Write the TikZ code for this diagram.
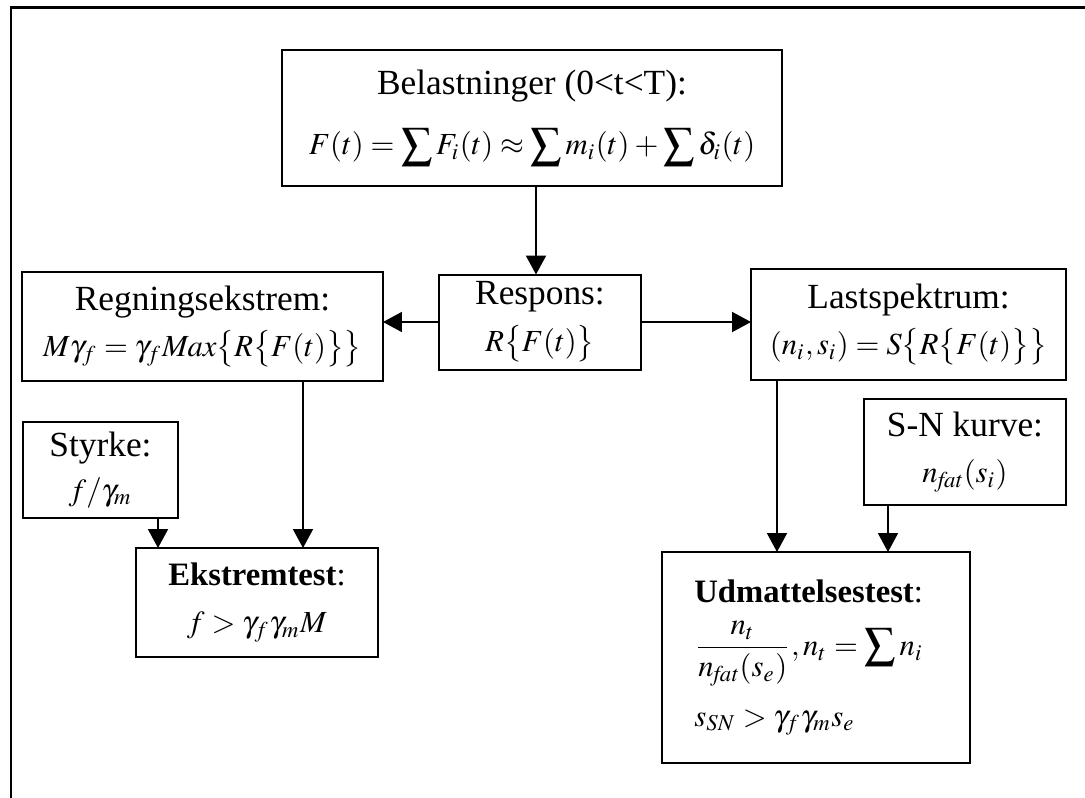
\documentclass[tikz,border=0pt]{standalone}
\usepackage{amsmath}
\usepackage{mathptmx}
\usepackage[no-math]{fontspec}
\setmainfont{Liberation Serif}
\usetikzlibrary{arrows.meta}
\newcommand{\mline}[1]{\mbox{\fontsize{9.2}{11}\selectfont\thickmuskip=4mu\medmuskip=3mu$#1$}}
\newcommand{\btitle}[1]{{\fontsize{9.8}{12}\selectfont\textbf{#1}:}}
\begin{document}
\begin{tikzpicture}[x=0.3pt,y=-0.3pt,
  box/.style={draw,line width=0.6pt,inner sep=0pt,outer sep=0pt,align=center,
    font=\fontsize{10.6}{12}\selectfont},
  arr/.style={line width=0.6pt,-{Triangle[width=6pt,length=5.7pt]}}]
\useasboundingbox (0,0) rectangle (1085,798);
\draw[line width=0.9pt] (11,798) -- (11,7) -- (1085,7);
\node[box,minimum width=150pt,minimum height=40.8pt] (bel) at (532,118)
  {Belastninger (0<t<T):\\[6pt]
   \mline{F(t)=\displaystyle\sum F_i(t)\approx\sum m_i(t)+\sum\delta_i(t)}};
\node[box,minimum width=60.6pt,minimum height=28.5pt] (resp) at (540,322)
  {Respons:\\[2pt] \mline{R\bigl\{F(t)\bigr\}}};
\node[box,minimum width=108.3pt,minimum height=32.7pt] (reg) at (202.5,326.5)
  {Regningsekstrem:\\[2pt] \mline{M\gamma_f=\gamma_f\mathit{Max}\bigl\{R\bigl\{F(t)\bigr\}\bigr\}}};
\node[box,minimum width=94.5pt,minimum height=33.3pt] (last) at (908.5,324.5)
  {Lastspektrum:\\[2pt] \mline{(n_i,s_i)=S\bigl\{R\bigl\{F(t)\bigr\}\bigr\}}};
\node[box,minimum width=46.5pt,minimum height=28.8pt] (sty) at (100.5,470)
  {Styrke:\\[1pt] \mline{f/\gamma_m}};
\node[box,minimum width=72.6pt,minimum height=32.7pt] (ekst) at (257,602.5)
  {\btitle{Ekstremtest}\\[2pt] \mline{f>\gamma_f\gamma_m M}};
\node[box,minimum width=60.6pt,minimum height=31.8pt] (sn) at (965,452)
  {S-N kurve:\\[2pt] \mline{n_{\mathit{fat}}(s_i)}};
\node[box,align=flush left,text width=73pt,inner xsep=9.7pt,minimum height=63.3pt] (udm) at (816,657.5)
  {\btitle{Udmattelsestest}\\[4pt]
   \mline{\dfrac{n_t}{n_{\mathit{fat}}(s_e)},n_t=\displaystyle\sum n_i}\\[6pt]
   \mline{s_{SN}>\gamma_f\gamma_m s_e}};
\coordinate (a1) at (536,0);
\coordinate (a2) at (303,0);
\coordinate (a3) at (158,0);
\coordinate (a4) at (777,0);
\coordinate (a5) at (888,0);
\draw[arr] (bel.south -| a1) -- (resp.north -| a1);
\draw[arr] (resp.west) -- (resp.west -| reg.east);
\draw[arr] (resp.east) -- (resp.east -| last.west);
\draw[arr] (reg.south -| a2) -- (ekst.north -| a2);
\draw[arr] (sty.south -| a3) -- (ekst.north -| a3);
\draw[arr] (last.south -| a4) -- (udm.north -| a4);
\draw[arr] (sn.south -| a5) -- (udm.north -| a5);
\end{tikzpicture}
\end{document}
